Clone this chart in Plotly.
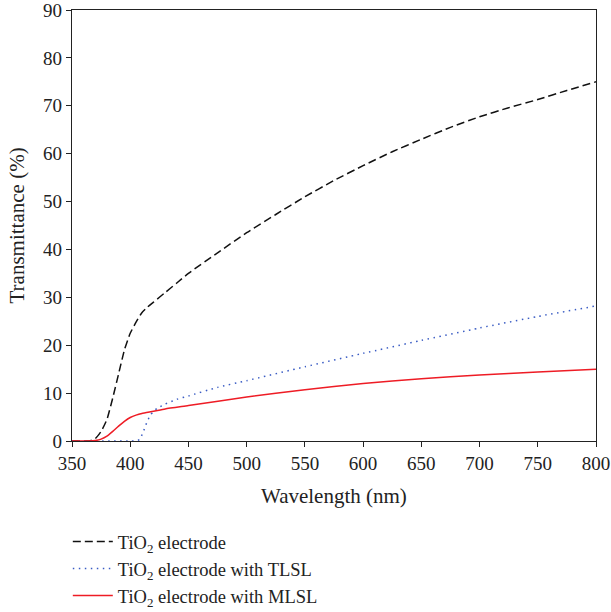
import plotly.graph_objects as go

wl_bare = [350, 360, 365, 370, 375, 380, 385, 390, 395, 400, 405, 410, 415, 420, 430, 440, 450,
           475, 500, 525, 550, 575, 600, 625, 650, 675, 700, 725, 750, 775, 800]
t_bare = [0, 0, 0, 0.5, 2, 4.5, 9, 14, 19, 22.5, 24.8, 26.8, 28, 29, 31, 33, 35,
          39.3, 43.5, 47.3, 51, 54.4, 57.5, 60.4, 63, 65.5, 67.7, 69.6, 71.3, 73.2, 75]

wl_tlsl = [350, 400, 405, 408, 411, 414, 417, 420, 423, 430, 440, 450, 475, 500, 550, 600,
           650, 700, 750, 800]
t_tlsl = [0, 0, 0, 0.3, 1.8, 3.7, 5.3, 6.2, 6.8, 7.7, 8.7, 9.4, 11.2, 12.6, 15.5, 18.3,
          21, 23.6, 26, 28.2]

wl_mlsl = [350, 365, 370, 375, 380, 385, 390, 395, 400, 405, 410, 420, 430, 450, 500, 550,
           600, 650, 700, 750, 800]
t_mlsl = [0, 0, 0.1, 0.4, 1, 2, 3.1, 4.1, 4.9, 5.4, 5.75, 6.2, 6.7, 7.4, 9.2, 10.7,
          12, 13, 13.8, 14.4, 15]

names = ["TiO<sub>2</sub> electrode", "TiO<sub>2</sub> electrode with TLSL",
         "TiO<sub>2</sub> electrode with MLSL"]
x_title = "Wavelength (nm)"
y_title = "Transmittance (%)"

x_ticks = list(range(350, 801, 50))
y_ticks = list(range(0, 91, 10))

FONT = "Liberation Serif"
INK = "#222222"

fig = go.Figure()
fig.add_trace(go.Scatter(x=wl_bare, y=t_bare, mode="lines", name=names[0],
                         line=dict(color="#111111", width=1.5, dash="8px,4px", shape="spline", smoothing=0.5)))
fig.add_trace(go.Scatter(x=wl_tlsl, y=t_tlsl, mode="lines", name=names[1],
                         line=dict(color="#3a5cc4", width=1.5, dash="1.5px,4.5px", shape="spline", smoothing=0.5)))
fig.add_trace(go.Scatter(x=wl_mlsl, y=t_mlsl, mode="lines", name=names[2],
                         line=dict(color="#ee1c25", width=1.5, shape="spline", smoothing=0.5)))

fig.update_layout(
    width=611, height=612,
    margin=dict(l=72, r=15, t=10, b=171, autoexpand=False),
    paper_bgcolor="white", plot_bgcolor="white",
    font=dict(family=FONT, size=19, color=INK),
    showlegend=True,
    legend=dict(x=-0.008, y=-0.19, xanchor="left", yanchor="top",
                font=dict(family=FONT, size=18.5, color=INK),
                bgcolor="rgba(0,0,0,0)", tracegroupgap=0, itemwidth=40),
    annotations=[
        dict(text=x_title, xref="paper", yref="paper", x=0.5, y=-0.127, yanchor="middle",
             xanchor="center", showarrow=False, font=dict(family=FONT, size=21, color=INK)),
        dict(text=y_title, xref="paper", yref="paper", x=-0.105, y=0.5, xanchor="center",
             yanchor="middle", textangle=-90, showarrow=False,
             font=dict(family=FONT, size=21, color=INK)),
    ],
)
fig.update_xaxes(range=[350, 800], tickvals=x_ticks, ticktext=[str(v) for v in x_ticks],
                 showgrid=False, zeroline=False, showline=True, linecolor=INK, linewidth=1.3,
                 mirror=True, ticks="outside", ticklen=5, tickcolor=INK, automargin=False,
                 ticklabeloverflow="allow",
                 tickfont=dict(family=FONT, size=19, color=INK))
fig.update_yaxes(range=[0, 90], tickvals=y_ticks, ticktext=[str(v) for v in y_ticks],
                 showgrid=False, zeroline=False, showline=True, linecolor=INK, linewidth=1.3,
                 mirror=True, ticks="outside", ticklen=5, tickcolor=INK, automargin=False,
                 ticklabeloverflow="allow",
                 tickfont=dict(family=FONT, size=19, color=INK))

fig.write_html("out.html", config={"displayModeBar": False},
               post_script="document.body.style.margin='0';document.body.style.overflow='hidden';")
